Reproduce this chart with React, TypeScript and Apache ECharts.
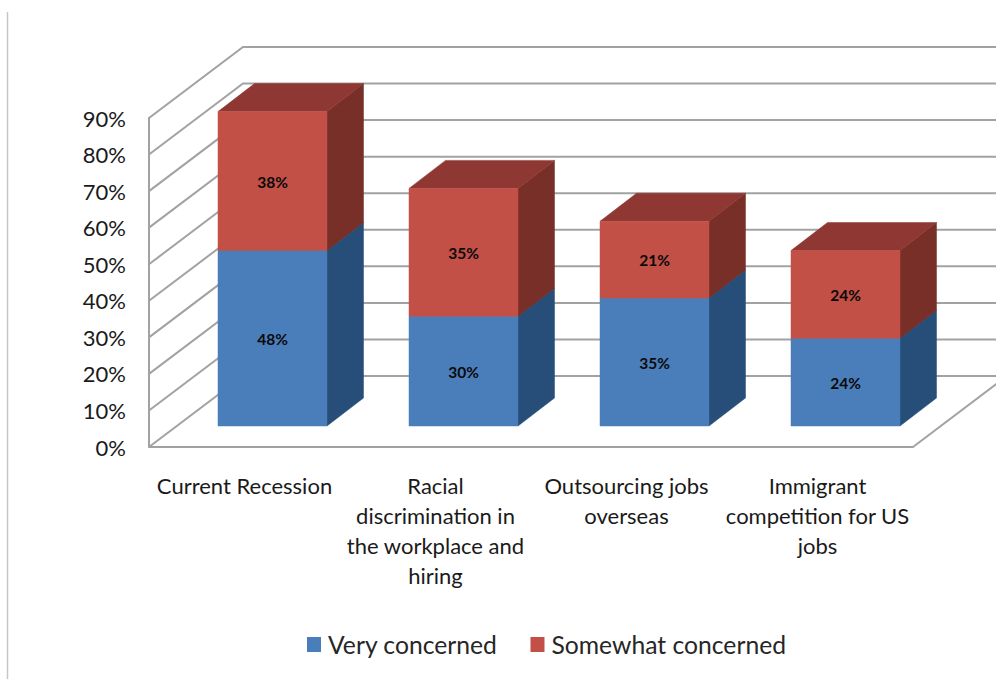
import React, { useEffect, useRef } from "react";
import * as echarts from "echarts";

const categories = [
  "Current Recession",
  "Racial\ndiscrimination in\nthe workplace and\nhiring",
  "Outsourcing jobs\noverseas",
  "Immigrant\ncompetition for US\njobs",
];
const veryConcerned = [48, 30, 35, 24];
const somewhatConcerned = [38, 35, 21, 24];
const axisTicks = [0, 10, 20, 30, 40, 50, 60, 70, 80, 90];

// Plot box and the oblique projection used for the fake 3D look, in pixels.
const GRID_LEFT = 149;
const GRID_RIGHT_X = 913;
const WALL_DX = 94;
const WALL_DY = 71;
const BAR_DX = 36.5;
const BAR_DY = 28;
const BAR_SHIFT_X = 28;
const BAR_SHIFT_Y = 21;
const BAR_WIDTH = 109;

const FONT = "Lato, 'Open Sans', sans-serif";
const WALL_COLOR = "#a2a2a2";
const TEXT_COLOR = "#1a1a1a";

type P = [number, number];

// One tick's line across the side wall and the back wall; the zero tick also
// closes the floor on the right.
function renderWall(_params: any, api: any) {
  const tick = api.value(0);
  const y: number = api.coord([0, tick])[1];
  const children: any[] = [
    {
      type: "polyline",
      silent: true,
      shape: {
        points: [
          [GRID_LEFT, y],
          [GRID_LEFT + WALL_DX, y - WALL_DY],
          [GRID_RIGHT_X + WALL_DX, y - WALL_DY],
        ],
      },
      style: { fill: "none", stroke: WALL_COLOR, lineWidth: 2 },
    },
  ];
  if (tick === 0) {
    children.push({
      type: "line",
      silent: true,
      shape: {
        x1: GRID_RIGHT_X,
        y1: y,
        x2: GRID_RIGHT_X + WALL_DX,
        y2: y - WALL_DY,
      },
      style: { stroke: WALL_COLOR, lineWidth: 2 },
    });
  }
  return { type: "group", children };
}

// A stacked segment: side and top faces behind the front face, value centred on it.
function barRenderer(front: string, side: string, top: string) {
  return (_params: any, api: any) => {
    const cx: number = api.coord([api.value(0), 0])[0] + BAR_SHIFT_X;
    const y0: number = api.coord([0, api.value(1)])[1] - BAR_SHIFT_Y;
    const y1: number = api.coord([0, api.value(1) + api.value(2)])[1] - BAR_SHIFT_Y;
    const l = cx - BAR_WIDTH / 2;
    const r = cx + BAR_WIDTH / 2;
    const face = (points: P[], fill: string) => ({
      type: "polygon",
      shape: { points },
      style: { fill, stroke: fill, lineWidth: 0.5 },
    });
    return {
      type: "group",
      children: [
        face(
          [
            [r, y0],
            [r + BAR_DX, y0 - BAR_DY],
            [r + BAR_DX, y1 - BAR_DY],
            [r, y1],
          ],
          side,
        ),
        face(
          [
            [l, y1],
            [l + BAR_DX, y1 - BAR_DY],
            [r + BAR_DX, y1 - BAR_DY],
            [r, y1],
          ],
          top,
        ),
        face(
          [
            [l, y0],
            [r, y0],
            [r, y1],
            [l, y1],
          ],
          front,
        ),
        {
          type: "text",
          x: cx,
          y: (y0 + y1) / 2 + 0.5,
          style: {
            text: `${api.value(2)}%`,
            fill: "#0a0a0a",
            font: `bold 15.5px ${FONT}`,
            textAlign: "center",
            textVerticalAlign: "middle",
          },
        },
      ],
    };
  };
}

export default function App() {
  const ref = useRef<HTMLDivElement>(null);

  useEffect(() => {
    const chart = echarts.init(ref.current!, undefined, { renderer: "svg" });
    chart.setOption({
      animation: false,
      backgroundColor: "#ffffff",
      grid: { left: GRID_LEFT, right: 996 - GRID_RIGHT_X, top: 118, bottom: 232 },
      graphic: [
        {
          type: "line",
          silent: true,
          shape: { x1: 7.5, y1: 12, x2: 7.5, y2: 679 },
          style: { stroke: "#c6c6c6", lineWidth: 1.5 },
        },
      ],
      legend: {
        left: 302,
        top: 627,
        icon: "rect",
        itemWidth: 14,
        itemHeight: 15,
        itemGap: 33,
        selectedMode: false,
        data: ["Very concerned", "Somewhat concerned"],
        textStyle: {
          fontFamily: FONT,
          fontSize: 24.7,
          color: "#262626",
          padding: [0, 0, 0, 2],
        },
      },
      xAxis: {
        type: "category",
        data: categories,
        axisTick: { show: false },
        axisLine: { lineStyle: { color: WALL_COLOR, width: 2 } },
        axisLabel: {
          interval: 0,
          margin: 23,
          fontFamily: FONT,
          fontSize: 22,
          lineHeight: 30,
          color: TEXT_COLOR,
        },
      },
      yAxis: {
        type: "value",
        min: 0,
        max: 90,
        interval: 10,
        splitLine: { show: false },
        axisTick: { show: false },
        axisLine: { show: true, lineStyle: { color: WALL_COLOR, width: 2 } },
        axisLabel: {
          margin: 23,
          formatter: "{value}%",
          fontFamily: FONT,
          fontSize: 22,
          color: TEXT_COLOR,
        },
      },
      series: [
        {
          type: "custom",
          name: "wall",
          z: 1,
          silent: true,
          renderItem: renderWall,
          data: axisTicks.map((t) => [t]),
          encode: { y: 0 },
          clip: false,
          tooltip: { show: false },
        },
        {
          type: "custom",
          name: "Very concerned",
          z: 3,
          itemStyle: { color: "#4a7ebb" },
          renderItem: barRenderer("#4a7ebb", "#264e78", "#2f5d8f"),
          data: veryConcerned.map((v, i) => [i, 0, v]),
          encode: { x: 0, y: 2 },
        },
        {
          type: "custom",
          name: "Somewhat concerned",
          z: 4,
          itemStyle: { color: "#c25047" },
          renderItem: barRenderer("#c25047", "#772f28", "#8e3733"),
          data: somewhatConcerned.map((v, i) => [i, veryConcerned[i], v]),
          encode: { x: 0, y: 2 },
        },
      ],
    });
    return () => chart.dispose();
  }, []);

  return (
    <div
      ref={ref}
      style={{ position: "absolute", left: 0, top: 0, width: 996, height: 679 }}
    />
  );
}
